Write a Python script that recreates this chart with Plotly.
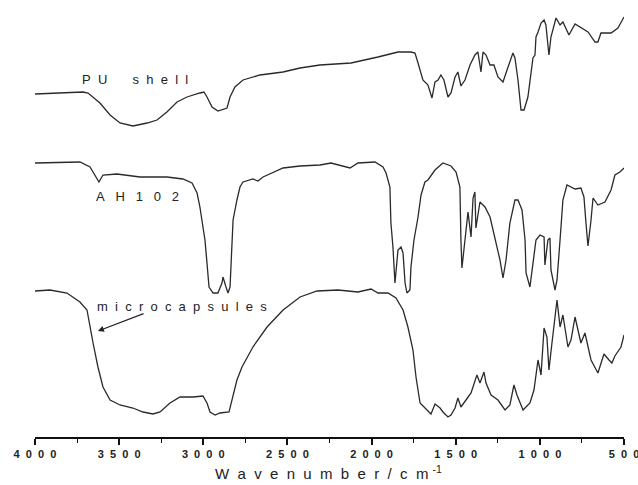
import plotly.graph_objects as go

# ---- data (wavenumber in cm^-1, transmittance in arbitrary offset units) ----
pu_wn = [4000, 3715, 3685, 3614, 3554, 3495, 3418, 3334, 3275, 3216, 3156, 3097, 3020, 2996,
         2978, 2948, 2913, 2859, 2841, 2812, 2764, 2663, 2526, 2425, 2307, 2122, 1962, 1843,
         1766, 1742, 1724, 1695, 1665, 1641, 1623, 1605, 1588, 1570, 1546, 1528, 1504, 1487,
         1469, 1445, 1415, 1386, 1368, 1350, 1338, 1320, 1296, 1273, 1249, 1219, 1189, 1160,
         1148, 1130, 1112, 1094, 1071, 1041, 1029, 1023, 1011, 993, 975, 964, 946, 934, 904,
         880, 863, 851, 827, 791, 756, 714, 672, 655, 637, 577, 536, 500]
pu_t = [343, 345, 344, 334, 322, 314, 311, 314, 317, 325, 335, 340, 344, 345,
        340, 330, 326, 329, 340, 350, 357, 362, 365, 369, 372, 374, 380, 385,
        385, 384, 374, 357, 352, 339, 355, 357, 362, 357, 340, 344, 360, 365,
        351, 357, 372, 382, 385, 365, 385, 382, 372, 372, 360, 355, 370, 384,
        379, 357, 327, 327, 340, 379, 382, 400, 405, 414, 417, 412, 382, 400, 419,
        412, 415, 410, 402, 413, 409, 405, 395, 395, 404, 404, 409, 420]

ah_wn = [4000, 3733, 3673, 3632, 3620, 3596, 3513, 3376, 3216, 3121, 3067, 3037, 3020, 3002,
         2990, 2978, 2966, 2942, 2913, 2889, 2883, 2865, 2853, 2841, 2829, 2823, 2800, 2782,
         2764, 2705, 2675, 2645, 2526, 2425, 2307, 2241, 2128, 2081, 1980, 1932, 1914, 1891,
         1885, 1873, 1861, 1843, 1825, 1813, 1801, 1790, 1772, 1766, 1748, 1724, 1706, 1683,
         1665, 1623, 1576, 1528, 1498, 1475, 1469, 1463, 1445, 1427, 1409, 1397, 1386, 1380,
         1356, 1326, 1296, 1267, 1237, 1219, 1201, 1178, 1148, 1130, 1106, 1088, 1082, 1059,
         1041, 1023, 999, 975, 970, 952, 940, 934, 910, 898, 880, 863, 839, 791, 756, 738,
         726, 714, 696, 684, 655, 613, 577, 554, 524, 500]
ah_t = [274, 275, 270, 259, 255, 262, 263, 260, 260, 258, 254, 244, 230, 210,
        197, 174, 150, 144, 144, 154, 160, 150, 144, 150, 197, 217, 237, 250,
        255, 258, 256, 260, 269, 271, 272, 274, 269, 274, 275, 270, 264, 250,
        214, 190, 154, 187, 190, 184, 154, 144, 147, 170, 197, 220, 242, 255,
        257, 267, 274, 271, 265, 250, 197, 169, 197, 225, 200, 239, 245, 209,
        235, 230, 220, 200, 177, 159, 177, 214, 237, 237, 227, 197, 164, 150,
        172, 197, 202, 200, 172, 197, 199, 167, 147, 157, 197, 237, 252, 248, 249, 240,
        214, 191, 217, 239, 232, 235, 247, 262, 265, 269]

mc_wn = [4000, 3911, 3810, 3733, 3691, 3673, 3655, 3626, 3596, 3554, 3495, 3418, 3358, 3299,
         3257, 3198, 3138, 3061, 3002, 2978, 2960, 2930, 2901, 2847, 2823, 2800, 2770, 2705,
         2621, 2526, 2425, 2324, 2200, 2081, 2003, 1962, 1902, 1855, 1813, 1784, 1754, 1736,
         1712, 1683, 1647, 1623, 1593, 1576, 1546, 1528, 1504, 1487, 1469, 1439, 1409, 1374,
         1356, 1332, 1320, 1290, 1249, 1207, 1178, 1154, 1136, 1100, 1059, 1035, 1011, 993,
         975, 958, 946, 928, 898, 880, 863, 833, 815, 791, 756, 732, 696, 655, 619, 589,
         572, 554, 518, 500]
mc_t = [146, 147, 144, 135, 127, 110, 94, 70, 50, 37, 32, 29, 25, 23,
        25, 34, 40, 40, 41, 34, 25, 22, 24, 25, 40, 57, 70, 90,
        110, 127, 140, 146, 147, 145, 148, 144, 144, 139, 127, 110, 87, 60,
        34, 29, 23, 33, 29, 25, 20, 22, 29, 39, 30, 37, 44, 62,
        54, 65, 54, 42, 37, 27, 32, 52, 42, 27, 34, 47, 77, 62,
        109, 100, 67, 94, 137, 110, 122, 90, 97, 120, 94, 104, 77, 64, 83, 77,
        74, 81, 90, 102]

tick_vals = [4000, 3500, 3000, 2500, 2000, 1500, 1000, 500]
minor_vals = [3750, 3250, 2750, 2250, 1750, 1250, 750]

NB = "\u00a0"


def spaced(s, n=2):
    out = []
    for ch in s:
        out.append(NB * 3 if ch == " " else ch)
    return (NB * n).join(out)


FONT = "Liberation Sans, Arial, sans-serif"
LINE = dict(color="#2a2a2a", width=1.3)

fig = go.Figure()
for wn, t, name in [(pu_wn, pu_t, "PU shell"), (ah_wn, ah_t, "AH102"), (mc_wn, mc_t, "microcapsules")]:
    fig.add_trace(go.Scatter(x=wn, y=t, mode="lines", line=LINE, name=name, showlegend=False))

fig.update_layout(
    width=638, height=485,
    margin=dict(l=35, r=14, t=0, b=48),
    paper_bgcolor="white", plot_bgcolor="white",
    font=dict(family=FONT, color="#222222"),
    xaxis=dict(
        range=[4000, 500], showgrid=False, zeroline=False,
        showline=True, linecolor="#111111", linewidth=1.5,
        ticks="outside", ticklen=6, tickwidth=1.5, tickcolor="#111111",
        tickmode="array", tickvals=tick_vals,
        ticktext=["<b>" + spaced(str(v)) + "</b>" for v in tick_vals],
        tickfont=dict(size=11, family=FONT, color="#222222"),
        ticklabeloverflow="allow",
        minor=dict(tickmode="array", tickvals=minor_vals, ticks="outside",
                   ticklen=4, tickwidth=1.2, tickcolor="#111111"),
    ),
    yaxis=dict(range=[0, 437], visible=False, showgrid=False, zeroline=False),
)

TXT = dict(size=13, family=FONT, color="#222222")
fig.add_annotation(x=3406, y=358, xref="x", yref="y", text=spaced("PU shell", 2),
                   showarrow=False, font=TXT)
fig.add_annotation(x=3388, y=241, xref="x", yref="y", text=spaced("AH102", 3),
                   showarrow=False, font=TXT)
fig.add_annotation(x=3127, y=131, xref="x", yref="y", text=spaced("microcapsules", 2),
                   showarrow=False, font=TXT)
# arrow pointing to microcapsules curve
fig.add_annotation(x=3626, y=106, xref="x", yref="y", ax=3346, ay=124, axref="x", ayref="y",
                   text="", showarrow=True, arrowhead=2, arrowsize=1, arrowwidth=1.2,
                   arrowcolor="#222222")
# axis title
fig.add_annotation(x=0.302, y=-0.108, xref="paper", yref="paper", xanchor="left", yanchor="bottom",
                   text=spaced("Wavenumber/cm", 2) + NB + "<sup>-1</sup>",
                   showarrow=False, font=dict(size=15, family=FONT, color="#222222"))

fig.write_html("out.html")
